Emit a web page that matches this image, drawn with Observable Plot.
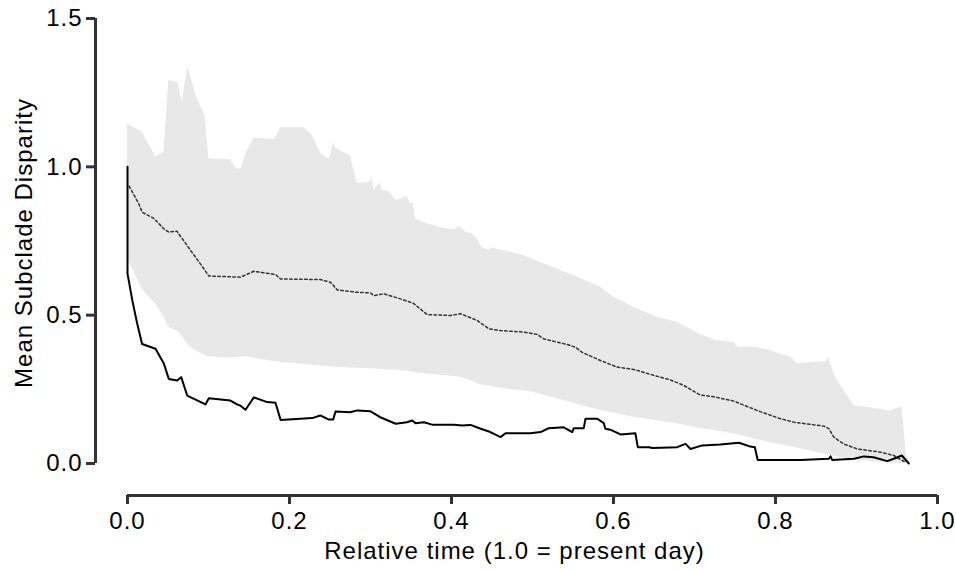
<!DOCTYPE html>
<html>
<head>
<meta charset="utf-8">
<script src="https://cdn.jsdelivr.net/npm/d3@7"></script>
<script src="https://cdn.jsdelivr.net/npm/@observablehq/plot@0.6"></script>
<style>
  html, body { margin: 0; padding: 0; background: #fff; }
</style>
</head>
<body>
<div id="chart"></div>
<script>
// ---- Data ----
// Null-model envelope (gray band): relative time, upper and lower limits
const bandTime = [0.000,0.018,0.035,0.045,0.051,0.062,0.0675,0.0745,0.085,0.0955,0.1004,0.127,0.135,0.140,0.147,0.156,0.182,0.189,0.217,0.227,0.239,0.249,0.2547,0.2568,0.275,0.2836,0.300,0.302,0.304,0.312,0.3144,0.3226,0.332,0.345,0.3486,0.3527,0.3556,0.370,0.390,0.403,0.411,0.417,0.4256,0.432,0.438,0.445,0.450,0.4605,0.489,0.501,0.5556,0.584,0.600,0.625,0.654,0.679,0.707,0.726,0.748,0.754,0.775,0.791,0.8185,0.827,0.862,0.866,0.874,0.897,0.934,0.940,0.956,0.9626];
const bandUpper = [1.143,1.117,1.032,1.049,1.291,1.285,1.218,1.338,1.235,1.173,1.027,1.024,0.993,0.993,1.049,1.096,1.092,1.132,1.132,1.111,1.044,1.024,1.080,1.063,1.038,0.945,0.948,0.965,0.922,0.945,0.920,0.917,0.886,0.901,0.879,0.877,0.825,0.808,0.793,0.787,0.800,0.780,0.774,0.757,0.727,0.720,0.726,0.720,0.701,0.688,0.628,0.594,0.561,0.526,0.493,0.476,0.435,0.415,0.409,0.392,0.392,0.383,0.358,0.336,0.344,0.356,0.291,0.195,0.181,0.175,0.192,0.000];
const bandLower = [0.690,0.588,0.535,0.495,0.459,0.445,0.430,0.400,0.378,0.365,0.360,0.356,0.357,0.358,0.360,0.355,0.343,0.341,0.334,0.332,0.329,0.327,0.325,0.325,0.322,0.321,0.319,0.319,0.319,0.318,0.317,0.316,0.314,0.311,0.310,0.308,0.306,0.302,0.297,0.293,0.291,0.285,0.277,0.270,0.264,0.261,0.259,0.254,0.244,0.240,0.200,0.179,0.170,0.156,0.144,0.134,0.118,0.110,0.100,0.097,0.082,0.072,0.057,0.052,0.030,0.028,0.024,0.012,0.003,0.002,0.000,0.000];

// Median of the null model (dotted line)
const medianTime  = [0.002,0.014,0.018,0.0325,0.045,0.051,0.061,0.078,0.090,0.1004,0.1395,0.156,0.1827,0.189,0.238,0.2506,0.259,0.2836,0.300,0.304,0.3165,0.337,0.353,0.370,0.399,0.411,0.432,0.446,0.4605,0.489,0.506,0.514,0.543,0.553,0.561,0.584,0.6045,0.625,0.650,0.670,0.687,0.707,0.724,0.749,0.765,0.781,0.806,0.823,0.860,0.866,0.872,0.884,0.901,0.930,0.946,0.9605];
const medianValue = [0.935,0.875,0.847,0.826,0.791,0.780,0.783,0.718,0.673,0.632,0.628,0.648,0.637,0.622,0.620,0.611,0.585,0.577,0.575,0.566,0.572,0.555,0.540,0.502,0.499,0.505,0.482,0.454,0.448,0.443,0.435,0.420,0.401,0.392,0.375,0.347,0.325,0.317,0.297,0.282,0.263,0.231,0.225,0.210,0.192,0.175,0.151,0.139,0.126,0.117,0.089,0.066,0.049,0.038,0.027,0.004];

// Observed mean subclade disparity (solid line)
const observedTime  = [0.000,0.000,0.006,0.012,0.018,0.0346,0.045,0.051,0.0613,0.0663,0.0737,0.0963,0.1004,0.127,0.1354,0.1395,0.1457,0.156,0.1725,0.1827,0.189,0.228,0.238,0.2486,0.254,0.2568,0.275,0.2836,0.300,0.312,0.331,0.345,0.3515,0.3556,0.366,0.376,0.403,0.413,0.4235,0.436,0.448,0.4605,0.4667,0.4975,0.510,0.520,0.5386,0.549,0.551,0.5633,0.5654,0.580,0.588,0.590,0.596,0.6086,0.627,0.630,0.6436,0.648,0.6786,0.689,0.695,0.7095,0.732,0.755,0.769,0.7745,0.778,0.831,0.866,0.868,0.870,0.897,0.909,0.921,0.938,0.946,0.956,0.9646];
const observedValue = [1.000,0.640,0.549,0.471,0.403,0.387,0.336,0.285,0.280,0.291,0.229,0.199,0.220,0.212,0.199,0.195,0.181,0.223,0.207,0.205,0.147,0.153,0.162,0.148,0.148,0.175,0.173,0.179,0.176,0.156,0.134,0.139,0.145,0.136,0.139,0.131,0.131,0.128,0.130,0.117,0.106,0.089,0.102,0.102,0.106,0.119,0.122,0.106,0.119,0.119,0.151,0.151,0.136,0.117,0.114,0.098,0.102,0.055,0.055,0.052,0.055,0.066,0.049,0.061,0.064,0.070,0.057,0.055,0.012,0.012,0.016,0.024,0.012,0.016,0.024,0.021,0.008,0.016,0.027,0.000];

// Axes
const xTicks = [0, 0.2, 0.4, 0.6, 0.8, 1.0];
const yTicks = [0, 0.5, 1.0, 1.5];
const xTitle = "Relative time (1.0 = present day)";
const yTitle = "Mean Subclade Disparity";

// ---- Tables for the marks ----
const band = bandTime.map((t, i) => ({t, lo: bandLower[i], hi: bandUpper[i]}));
const median = medianTime.map((t, i) => ({t, v: medianValue[i]}));
const observed = observedTime.map((t, i) => ({t, v: observedValue[i]}));

const fmt = d3.format(".1f");
const axisColor = "#333";

const chart = Plot.plot({
  width: 956,
  height: 571,
  marginLeft: 127,
  marginRight: 19,
  marginTop: 18,
  marginBottom: 108,
  style: "font-family: 'Liberation Sans', Arial, Helvetica, sans-serif; font-size: 24px; letter-spacing: 1px; color: #000; background: #fff;",
  x: {domain: [0, 1]},
  y: {domain: [0, 1.5]},
  marks: [
    Plot.areaY(band, {x: "t", y1: "lo", y2: "hi", fill: "#e8e8e8"}),
    Plot.line(median, {x: "t", y: "v", stroke: "#333", strokeWidth: 1.5, strokeDasharray: "2.5,2.5"}),
    Plot.line(observed, {x: "t", y: "v", stroke: "#000", strokeWidth: 2}),
    // offset axis lines
    Plot.ruleX([0], {y1: 0, y2: 1.5, dx: -32, stroke: axisColor, strokeWidth: 3}),
    Plot.ruleY([0], {x1: 0, x2: 1, dy: 32, stroke: axisColor, strokeWidth: 3}),
    Plot.axisY(yTicks, {anchor: "left", tickSize: 9, tickPadding: 4, dx: -32, tickFormat: fmt, stroke: axisColor, strokeWidth: 3, fill: "#000", label: null}),
    Plot.axisX(xTicks, {anchor: "bottom", tickSize: 9, tickPadding: 7, dy: 32, tickFormat: fmt, stroke: axisColor, strokeWidth: 3, fill: "#000", label: null}),
    Plot.text([yTitle], {frameAnchor: "left", textAnchor: "middle", lineAnchor: "middle", rotate: -90, dx: -103, dy: 2, fontSize: 24, fill: "#000"}),
    Plot.text([xTitle], {frameAnchor: "bottom", textAnchor: "middle", lineAnchor: "middle", dx: -18, dy: 88, fontSize: 24, fill: "#000"})
  ]
});
document.getElementById("chart").appendChild(chart);
</script>
</body>
</html>
